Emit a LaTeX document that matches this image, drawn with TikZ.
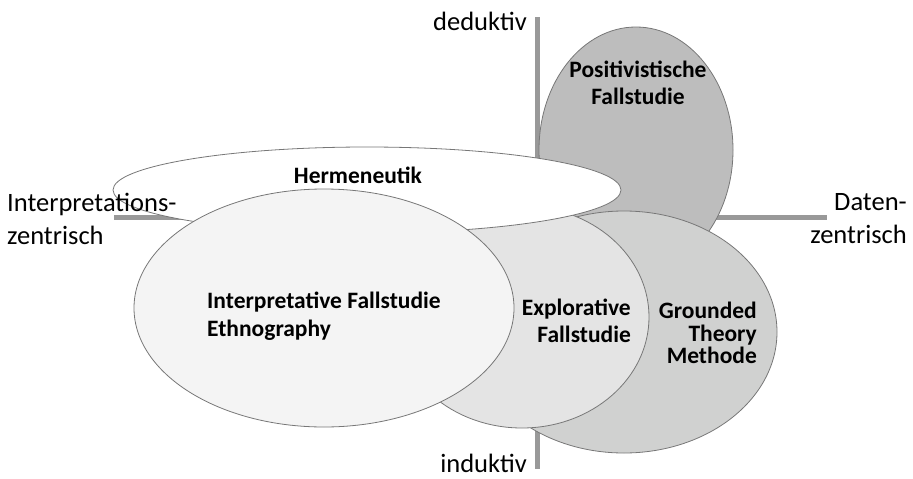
\documentclass[tikz,border=0pt]{standalone}
\usepackage{fontspec}
\setmainfont{Carlito}
\usetikzlibrary{shapes.geometric}
\definecolor{axisgray}{HTML}{999999}
\definecolor{edgegray}{HTML}{777777}
\definecolor{posfill}{HTML}{BDBDBD}
\definecolor{grofill}{HTML}{D0D1D0}
\definecolor{expfill}{HTML}{E4E4E4}
\definecolor{intfill}{HTML}{F4F4F4}
\tikzset{
  axisline/.style={draw=axisgray, line width=5pt},
  blob/.style={ellipse, draw=edgegray, line width=0.8pt, inner sep=0pt},
  axlabel/.style={font=\fontsize{26.5}{33}\selectfont, inner sep=0pt},
  setlabel/.style={font=\fontsize{23.5}{27.5}\selectfont\bfseries, inner sep=0pt},
}
\begin{document}
\begin{tikzpicture}[x=1pt,y=-1pt]
\useasboundingbox (0,0) rectangle (913,479);
% axes
\coordinate (vtop) at (537,17);
\coordinate (vbot) at (537,469);
\coordinate (hleft) at (114,217);
\coordinate (hright) at (827,217);
\draw[axisline] (vtop) -- (vbot);
\draw[axisline] (hleft) -- (hright);
% ellipses
\node[blob, fill=posfill, minimum width=194pt, minimum height=246pt] (pos) at (636,150) {};
\node[blob, fill=grofill, minimum width=306pt, minimum height=242pt] (gro) at (624,332) {};
\node[blob, fill=expfill, minimum width=254pt, minimum height=222pt] (exp) at (522,317) {};
\node[blob, fill=white, minimum width=508pt, minimum height=86pt] (her) at (367,190) {};
\node[blob, fill=intfill, minimum width=380pt, minimum height=238pt] (int) at (324,308) {};
% set labels
\node[setlabel, align=center] (tpos) at (638,83) {Positivistische\\Fallstudie};
\node[setlabel] (ther) at (358,175) {Hermeneutik};
\node[setlabel, align=left, anchor=west] (tint) at (207,316) {Interpretative Fallstudie\\Ethnography};
\node[setlabel, align=right, anchor=east] (texp) at (631,321) {Explorative\\Fallstudie};
\node[setlabel, align=right, anchor=east, font=\fontsize{23.5}{22.5}\selectfont\bfseries] (tgro) at (757,333) {Grounded\\Theory\\Methode};
% axis labels
\node[axlabel, anchor=east] (ded) at (527,21) {deduktiv};
\node[axlabel, anchor=east] (ind) at (527,463) {induktiv};
\node[axlabel, align=left, anchor=west] (lint) at (7,219) {Interpretations-\\zentrisch};
\node[axlabel, align=right, anchor=east] (ldat) at (907,219) {Daten-\\zentrisch};
\end{tikzpicture}
\end{document}
